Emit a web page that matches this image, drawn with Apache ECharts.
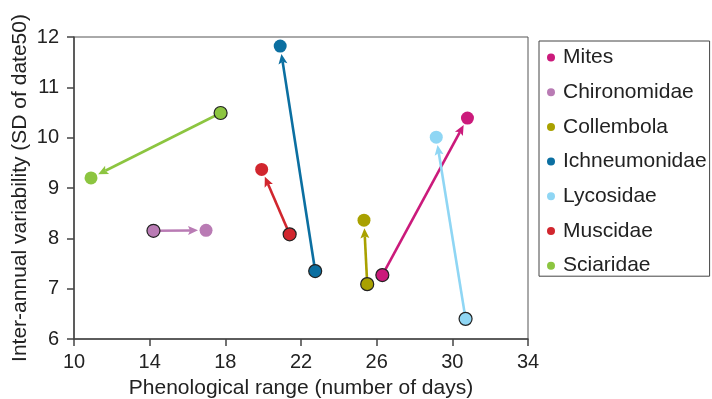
<!DOCTYPE html>
<html>
<head>
<meta charset="utf-8">
<script src="https://cdn.jsdelivr.net/npm/echarts@6/dist/echarts.min.js"></script>
<style>
  html, body { margin: 0; padding: 0; background: #fff; }
  #chart { width: 712px; height: 399px; }
</style>
</head>
<body>
<div id="chart"></div>
<script>
// taxa and their colours
const taxa = ['Mites', 'Chironomidae', 'Collembola', 'Ichneumonidae', 'Lycosidae', 'Muscidae', 'Sciaridae'];
const colors = ['#cb1a7b', '#b97bb4', '#a9a100', '#0b6fa1', '#8fd6f4', '#d1262e', '#8cc540'];

// start point (circle with border) -> end point (arrow head)
const startX = [26.3, 14.2, 25.5, 22.75, 30.7, 21.4, 17.75];
const startY = [7.27, 8.15, 7.09, 7.35, 6.40, 8.08, 10.49];
const endX = [30.8, 16.98, 25.33, 20.9, 29.15, 19.92, 10.9];
const endY = [10.39, 8.16, 8.36, 11.82, 10.01, 9.37, 9.2];

const xTicks = [10, 34, 4];   // min, max, interval
const yTicks = [6, 12, 1];

var dom = document.getElementById('chart');
var myChart = echarts.init(dom, null, { renderer: 'canvas' });

const R = 6.5;

function renderArrow(params, api) {
  const p0 = api.coord([api.value(0), api.value(1)]);
  const p1 = api.coord([api.value(2), api.value(3)]);
  const color = api.visual('color');
  const dx = p1[0] - p0[0], dy = p1[1] - p0[1];
  const len = Math.sqrt(dx * dx + dy * dy);
  const ux = dx / len, uy = dy / len;
  // arrow tip stops just before the end circle
  const tip = [p1[0] - ux * (R + 1.5), p1[1] - uy * (R + 1.5)];
  const headLen = 10, headW = 4.5;
  const base = [tip[0] - ux * headLen, tip[1] - uy * headLen];
  const nx = -uy, ny = ux;
  return {
    type: 'group',
    children: [
      {
        type: 'line',
        shape: { x1: p0[0], y1: p0[1], x2: base[0] + ux * 2, y2: base[1] + uy * 2 },
        style: { stroke: color, lineWidth: 2.6 }
      },
      {
        type: 'polygon',
        shape: { points: [tip, [base[0] + nx * headW, base[1] + ny * headW], [base[0] + ux * 2, base[1] + uy * 2], [base[0] - nx * headW, base[1] - ny * headW]] },
        style: { fill: color }
      },
      {
        type: 'circle',
        shape: { cx: p1[0], cy: p1[1], r: R },
        style: { fill: color }
      },
      {
        type: 'circle',
        shape: { cx: p0[0], cy: p0[1], r: R },
        style: { fill: color, stroke: '#222', lineWidth: 1.2 }
      }
    ]
  };
}

let series = [];
for (let i = 0; i < taxa.length; i++) {
  series.push({
    name: taxa[i],
    type: 'custom',
    renderItem: renderArrow,
    itemStyle: { color: colors[i] },
    encode: { x: [0, 2], y: [1, 3] },
    data: [[startX[i], startY[i], endX[i], endY[i]]]
  });
}

const font = 'Liberation Sans, Arial, sans-serif';

var option = {
  animation: false,
  grid: {
    left: 74, right: 184, top: 37, bottom: 60,
    outerBoundsMode: 'none',
    containLabel: false,
    show: true, borderColor: '#555', borderWidth: 1
  },
  legend: {
    orient: 'vertical',
    left: 539,
    top: 41,
    icon: 'circle',
    itemWidth: 8,
    itemHeight: 8,
    itemGap: 13.7,
    padding: [6, 3, 0, 8],
    borderColor: '#444',
    borderWidth: 1,
    data: taxa,
    textStyle: { fontFamily: font, fontSize: 21, color: '#222', lineHeight: 21, padding: [0, 0, 0, 3] }
  },
  xAxis: {
    type: 'value',
    min: xTicks[0], max: xTicks[1], interval: xTicks[2],
    name: 'Phenological range (number of days)',
    nameLocation: 'middle',
    nameGap: 39,
    nameTextStyle: { fontFamily: font, fontSize: 21, color: '#222' },
    axisLine: { show: true, lineStyle: { color: '#444', width: 1.5 } },
    axisTick: { show: true, length: 7, lineStyle: { color: '#444', width: 1.5 } },
    axisLabel: { fontFamily: font, fontSize: 20, color: '#222', margin: 13 },
    splitLine: { show: false }
  },
  yAxis: {
    type: 'value',
    min: yTicks[0], max: yTicks[1], interval: yTicks[2],
    name: 'Inter-annual variability (SD of date50)',
    nameLocation: 'middle',
    nameGap: 43,
    nameMoveOverlap: false,
    nameTextStyle: { fontFamily: font, fontSize: 21, color: '#222' },
    axisLine: { show: true, lineStyle: { color: '#444', width: 1.5 } },
    axisTick: { show: true, length: 7, lineStyle: { color: '#444', width: 1.5 } },
    axisLabel: { fontFamily: font, fontSize: 20, color: '#222', margin: 15 },
    splitLine: { show: false }
  },
  series: series
};

myChart.setOption(option);
window.addEventListener('resize', myChart.resize);
</script>
</body>
</html>
